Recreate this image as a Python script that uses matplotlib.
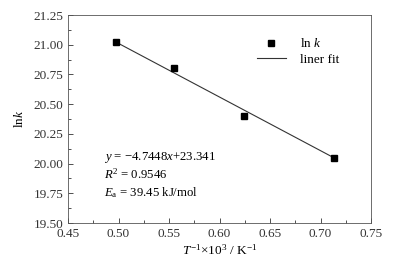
import matplotlib
matplotlib.use("Agg")
import matplotlib.pyplot as plt
from matplotlib.ticker import MultipleLocator
from matplotlib.lines import Line2D

plt.rcParams['font.family'] = ['Liberation Serif', 'DejaVu Serif']
plt.rcParams['mathtext.fontset'] = 'custom'
plt.rcParams['mathtext.rm'] = 'Liberation Serif'
plt.rcParams['mathtext.it'] = 'Liberation Serif:italic'

inv_T = [0.498, 0.555, 0.624, 0.713]
ln_k = [21.02, 20.80, 20.40, 20.05]
fit_x = [0.498, 0.713]
fit_y = [21.02, 20.05]
x_ticks = [0.45, 0.50, 0.55, 0.60, 0.65, 0.70, 0.75]
y_ticks = [19.50, 19.75, 20.00, 20.25, 20.50, 20.75, 21.00, 21.25]

fig = plt.figure(figsize=(3.99, 2.62), dpi=100)
ax = fig.add_axes([68/399, 1-223/262, (371-68)/399, (223-15)/262])

ax.plot(fit_x, fit_y, color='#333333', lw=0.8)
ax.plot(inv_T, ln_k, 's', color='black', ms=4.3, ls='none')

ax.set_xlim(0.45, 0.75)
ax.set_ylim(19.5, 21.25)
ax.set_xticks(x_ticks)
ax.set_yticks(y_ticks)
ax.set_xticklabels([f"{v:.2f}" for v in x_ticks])
ax.set_yticklabels([f"{v:.2f}" for v in y_ticks])
ax.xaxis.set_minor_locator(MultipleLocator(0.025))
ax.yaxis.set_minor_locator(MultipleLocator(0.125))
ax.tick_params(which='both', direction='in', top=False, right=False, labelsize=9.5, colors='#333333')
ax.tick_params(which='major', length=3.5, width=0.6)
ax.tick_params(which='minor', length=2, width=0.6)
for s in ax.spines.values():
    s.set_linewidth(0.6)
    s.set_color('#555555')

ax.set_ylabel('ln$k$', fontsize=9.5, labelpad=5)
ax.set_xlabel('$T^{-1}$×10$^3$ / K$^{-1}$', fontsize=9.5, labelpad=2)

ax.text(0.119, 0.315, '$y$ = −4.7448$x$+23.341', transform=ax.transAxes, fontsize=9.2, va='center')
ax.text(0.119, 0.232, '$R^2$ = 0.9546', transform=ax.transAxes, fontsize=9.2, va='center')
ax.text(0.119, 0.147, '$E_{\\mathrm{a}}$ = 39.45 kJ/mol', transform=ax.transAxes, fontsize=9.2, va='center')

handles = [Line2D([], [], marker='s', color='black', ls='none', ms=4.3),
           Line2D([], [], color='#333333', lw=0.8)]
ax.legend(handles, ['ln $k$', 'liner fit'], loc='upper right', frameon=False,
          fontsize=9.5, bbox_to_anchor=(0.935, 0.95), handlelength=2.2,
          labelspacing=0.25, handletextpad=1.1)

fig.savefig('out.png', dpi=100)
